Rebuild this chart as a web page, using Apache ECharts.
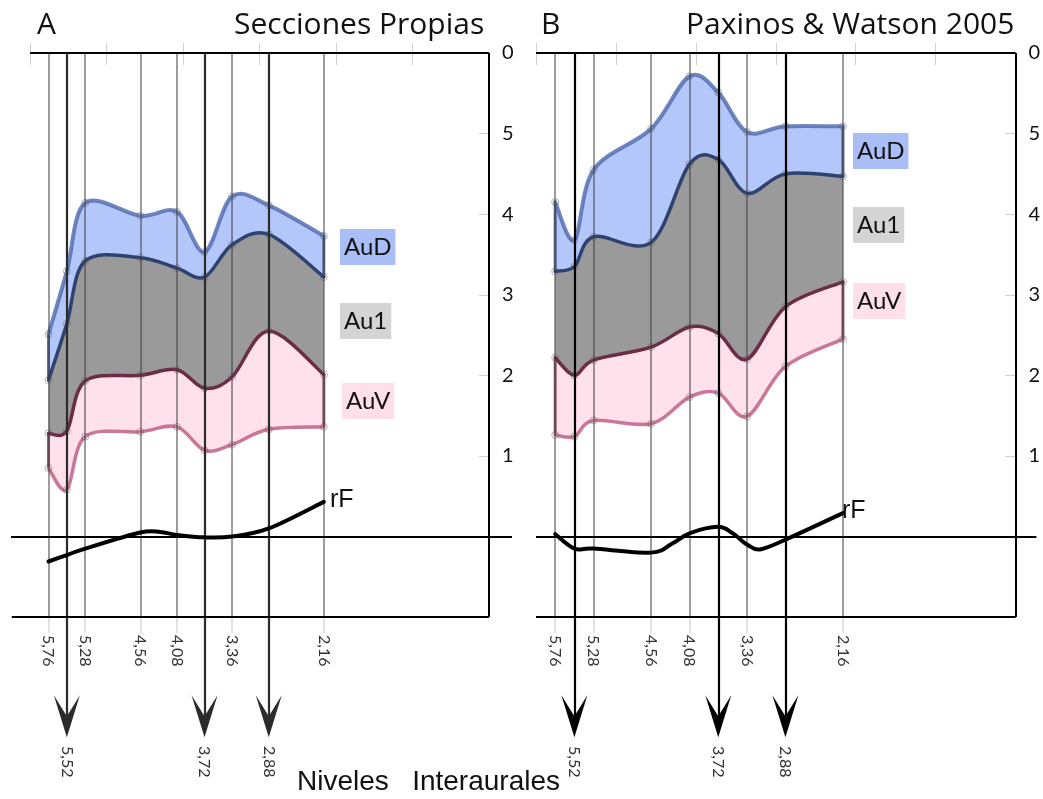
<!DOCTYPE html>
<html>
<head>
<meta charset="utf-8">
<script src="https://cdn.jsdelivr.net/npm/echarts@6/dist/echarts.min.js"></script>
<style>
  html, body { margin: 0; padding: 0; background: #fff; }
  #chart { width: 1043px; height: 799px; }
</style>
</head>
<body>
<div id="chart"></div>
<script>
// Interaural levels (mm) sampled in both panels
const levels = [5.76, 5.52, 5.28, 4.56, 4.08, 3.72, 3.36, 2.88, 2.16];
// Levels drawn as gray guide lines with labels under the frame
const levelLines = [5.76, 5.28, 4.56, 4.08, 3.36, 2.16];
// Levels marked with arrows
const arrowLevels = [5.52, 3.72, 2.88];
// Depth axis ticks and their labels
const depthTicks = [1, 2, 3, 4, 5, 6];
const depthTickLabels = ['1', '2', '3', '4', '5', '0'];
const topTicks = [1, 2, 3, 4, 5, 6];

// Panel A: own sections — region boundaries (top of AuD, AuD/Au1, Au1/AuV, bottom of AuV)
const aAuDTop    = [2.51, 3.29, 4.14, 3.98, 4.03, 3.53, 4.22, 4.11, 3.73];
const aAuDAu1    = [1.94, 2.64, 3.42, 3.46, 3.33, 3.22, 3.62, 3.75, 3.22];
const aAu1AuV    = [1.28, 1.31, 1.93, 2.00, 2.07, 1.84, 1.98, 2.55, 2.01];
const aAuVBottom = [0.85, 0.58, 1.24, 1.30, 1.36, 1.07, 1.14, 1.33, 1.36];
// Panel A: rhinal fissure
const aRfX = [5.76, 5.52, 5.28, 4.56, 4.30, 4.08, 3.72, 3.36, 2.88, 2.16];
const aRfY = [-0.31, -0.23, -0.15, 0.05, 0.055, 0.02, -0.01, 0.00, 0.10, 0.43];

// Panel B: Paxinos & Watson 2005 — region boundaries
const bAuDTop    = [4.15, 3.68, 4.55, 5.06, 5.71, 5.51, 5.02, 5.09, 5.09];
const bAuDAu1    = [3.29, 3.35, 3.72, 3.65, 4.62, 4.68, 4.26, 4.50, 4.47];
const bAu1AuV    = [2.22, 2.00, 2.19, 2.35, 2.60, 2.52, 2.20, 2.85, 3.16];
const bAuVBottom = [1.26, 1.24, 1.44, 1.40, 1.73, 1.78, 1.49, 2.11, 2.45];
// Panel B: rhinal fissure
const bRfX = [5.76, 5.52, 5.28, 4.56, 4.30, 4.08, 3.72, 3.54, 3.36, 3.20, 2.88, 2.16];
const bRfY = [0.03, -0.15, -0.15, -0.20, -0.09, 0.04, 0.12, 0.04, -0.10, -0.16, -0.04, 0.29];

const FRAME_TOP = 6, FRAME_BOTTOM = -1, ARROW_END = -2.23;
const Y_MIN = -2.55, Y_MAX = 6;

const panels = [
  { grid: { left: 11, top: 53, width: 501, height: 689 }, xMin: -0.3, xMax: 6.25, yOffset: -23,
    bottomStart: 6.24, arrowColor: '#2b2b2b',
    bounds: [aAuDTop, aAuDAu1, aAu1AuV, aAuVBottom], rfX: aRfX, rfY: aRfY },
  { grid: { left: 536, top: 53, width: 502, height: 689 }, xMin: -0.26, xMax: 6.0, yOffset: -21,
    bottomStart: 6.0, arrowColor: '#000000',
    bounds: [bAuDTop, bAuDAu1, bAu1AuV, bAuVBottom], rfX: bRfX, rfY: bRfY }
];

const fmtLevel = v => String(v).replace('.', ',');
const arrowHead = 'path://M0,0L13,21L26,0L13,42Z';

// fills: AuD, Au1, AuV
const bandFills = ['#b4c7fb', '#9a9a9a', '#ffe1ec'];
// strokes: top of AuD, AuD/Au1, Au1/AuV, bottom of AuV
const boundaryStrokes = [
  { color: 'rgba(78,104,172,0.8)', width: 4 },
  { color: '#2f416f', width: 3.5 },
  { color: '#6b2c45', width: 3.5 },
  { color: 'rgba(188,88,128,0.8)', width: 3.5 }
];
const edgeStrokes = ['rgba(47,65,111,0.75)', null, 'rgba(107,44,69,0.75)'];

// Catmull-Rom spline through pixel points, as SVG path commands
function splinePath(pts, start) {
  let d = (start || 'M') + pts[0][0] + ',' + pts[0][1];
  for (let i = 0; i < pts.length - 1; i++) {
    const p0 = pts[Math.max(i - 1, 0)], p1 = pts[i], p2 = pts[i + 1], p3 = pts[Math.min(i + 2, pts.length - 1)];
    const c1x = p1[0] + (p2[0] - p0[0]) / 6, c1y = p1[1] + (p2[1] - p0[1]) / 6;
    const c2x = p2[0] - (p3[0] - p1[0]) / 6, c2y = p2[1] - (p3[1] - p1[1]) / 6;
    d += 'C' + c1x + ',' + c1y + ',' + c2x + ',' + c2y + ',' + p2[0] + ',' + p2[1];
  }
  return d;
}

function bandRenderer(bounds) {
  return function (params, api) {
    if (params.dataIndex !== 0) return;
    const curves = bounds.map(vals => levels.map((x, i) => api.coord([x, vals[i]])));
    const children = [];
    // filled regions between consecutive boundaries
    for (let k = 0; k < 3; k++) {
      const upper = curves[k], lower = curves[k + 1].slice().reverse();
      children.push({ type: 'path', shape: { pathData: splinePath(upper) + splinePath(lower, 'L') + 'Z' },
                      style: { fill: bandFills[k], stroke: null } });
    }
    // vertical side edges of AuD and AuV
    for (let k = 0; k < 3; k++) {
      if (!edgeStrokes[k]) continue;
      [0, levels.length - 1].forEach(i => {
        children.push({ type: 'line',
          shape: { x1: curves[k][i][0], y1: curves[k][i][1], x2: curves[k + 1][i][0], y2: curves[k + 1][i][1] },
          style: { stroke: edgeStrokes[k], lineWidth: 3 } });
      });
    }
    // boundary curves
    curves.forEach((pts, k) => {
      children.push({ type: 'path', shape: { pathData: splinePath(pts) },
        style: { fill: 'none', stroke: boundaryStrokes[k].color, lineWidth: boundaryStrokes[k].width, lineJoin: 'round', lineCap: 'round' } });
    });
    // sample markers
    curves.forEach(pts => pts.forEach(pt => {
      children.push({ type: 'circle', shape: { cx: pt[0], cy: pt[1], r: 3.5 },
        style: { fill: 'none', stroke: 'rgba(90,90,90,0.45)', lineWidth: 1 } });
    }));
    return { type: 'group', children };
  };
}

function curveRenderer(xs, ys) {
  return function (params, api) {
    if (params.dataIndex !== 0) return;
    const pts = xs.map((x, i) => api.coord([x, ys[i]]));
    return { type: 'path', shape: { pathData: splinePath(pts) },
             style: { fill: 'none', stroke: '#000', lineWidth: 4, lineCap: 'round' } };
  };
}

const grids = [], xAxes = [], yAxes = [], series = [];

panels.forEach((p, gi) => {
  grids.push(p.grid);
  const base = { gridIndex: gi, type: 'value', min: p.xMin, max: p.xMax, inverse: true,
                 splitLine: { show: false }, axisLine: { show: false, onZero: false } };
  // top ticks
  xAxes.push(Object.assign({}, base, {
    position: 'top', offset: -12,
    axisTick: { show: true, length: 22, customValues: topTicks, lineStyle: { color: '#d2d2d2', width: 1 } },
    axisLabel: { show: false }
  }));
  // level labels under the frame
  xAxes.push(Object.assign({}, base, {
    position: 'bottom', offset: -125,
    axisTick: { show: true, length: 16, customValues: levelLines, lineStyle: { color: '#dadada', width: 1.5 } },
    axisLabel: { show: true, customValues: levelLines, rotate: -90, margin: 18, formatter: fmtLevel,
                 fontSize: 16, color: '#333', fontFamily: 'Lato' }
  }));
  // arrow labels
  xAxes.push(Object.assign({}, base, {
    position: 'bottom', offset: 0,
    axisTick: { show: false },
    axisLabel: { show: true, customValues: arrowLevels, rotate: -90, margin: 4, formatter: fmtLevel,
                 fontSize: 16, color: '#333', fontFamily: 'Lato' }
  }));
  yAxes.push({
    gridIndex: gi, type: 'value', min: Y_MIN, max: Y_MAX, position: 'right', offset: p.yOffset,
    splitLine: { show: false }, axisLine: { show: false, onZero: false },
    axisTick: { show: true, inside: true, length: 10, customValues: depthTicks.slice(0, 5),
                lineStyle: { color: '#cfcfcf', width: 1 } },
    axisLabel: { show: true, customValues: depthTicks, margin: 13, fontSize: 20, color: '#111',
                 fontFamily: 'Lato', formatter: v => depthTickLabels[depthTicks.indexOf(v)] }
  });

  const xi = gi * 3 + 1;
  const common = { xAxisIndex: xi, yAxisIndex: gi, silent: true, animation: false };

  // auditory regions
  series.push(Object.assign({}, common, {
    type: 'custom', z: 2,
    data: levels.map((x, i) => [x].concat(p.bounds.map(b => b[i]))),
    encode: { x: 0, y: [1, 2, 3, 4] },
    renderItem: bandRenderer(p.bounds)
  }));

  // gray level guide lines
  series.push(Object.assign({}, common, {
    type: 'line', data: [],
    markLine: {
      z: 10, silent: true, symbol: ['none', 'none'], label: { show: false },
      lineStyle: { color: 'rgba(60,60,60,0.5)', width: 2, type: 'solid' },
      data: levelLines.map(v => [{ coord: [v, FRAME_TOP] }, { coord: [v, FRAME_BOTTOM] }])
    }
  }));

  // arrow shafts
  series.push(Object.assign({}, common, {
    type: 'line', data: [],
    markLine: {
      z: 11, silent: true, symbol: ['none', 'none'], label: { show: false },
      lineStyle: { color: p.arrowColor, width: 2.2, type: 'solid' },
      data: arrowLevels.map(v => [{ coord: [v, FRAME_TOP] }, { coord: [v, ARROW_END] }])
    }
  }));
  // arrow heads
  series.push(Object.assign({}, common, {
    type: 'scatter', z: 11,
    data: arrowLevels.map(v => [v, ARROW_END]),
    symbol: arrowHead, symbolSize: [26, 42],
    itemStyle: { color: p.arrowColor, opacity: 1 }
  }));

  // frame and baseline
  series.push(Object.assign({}, common, {
    type: 'line', data: [],
    markLine: {
      z: 12, silent: true, symbol: ['none', 'none'], label: { show: false },
      lineStyle: { color: '#000', width: 2, type: 'solid' },
      data: [
        [{ coord: [6, FRAME_TOP] }, { coord: [0, FRAME_TOP] }],
        [{ coord: [0, FRAME_TOP] }, { coord: [0, FRAME_BOTTOM] }],
        [{ coord: [p.bottomStart, FRAME_BOTTOM] }, { coord: [0, FRAME_BOTTOM] }],
        { yAxis: 0 }
      ]
    }
  }));

  // rhinal fissure
  series.push(Object.assign({}, common, {
    type: 'custom', z: 20,
    data: p.rfX.map((x, i) => [x, p.rfY[i]]),
    encode: { x: 0, y: 1 },
    renderItem: curveRenderer(p.rfX, p.rfY)
  }));
});

function label(text, left, top, size, family, bg) {
  const t = { text, left, top, padding: bg ? [5, 4, 5, 4] : 0,
    textStyle: { fontSize: size, fontFamily: family, fontWeight: 'normal', color: '#111',
                 lineHeight: bg ? 26 : Math.round(size * 1.2) } };
  if (bg) t.backgroundColor = bg;
  return t;
}

const titles = [
  label('A', 37, 7, 30, 'Open Sans'),
  label('Secciones Propias', 234, 7, 30, 'Open Sans'),
  label('B', 541, 7, 30, 'Open Sans'),
  label('Paxinos & Watson 2005', 686, 7, 30, 'Open Sans'),
  label('Niveles   Interaurales', 297, 765, 28, 'Liberation Sans'),
  label('rF', 330, 485, 25, 'Liberation Sans'),
  label('rF', 842, 496, 25, 'Liberation Sans'),
  label('AuD', 340, 229, 24, 'Lato', '#a9bef7'),
  label('Au1', 340, 303, 24, 'Lato', '#d4d4d4'),
  label('AuV', 342, 383, 24, 'Lato', '#ffe0ea'),
  label('AuD', 853, 133, 24, 'Lato', '#a9bef7'),
  label('Au1', 853, 207, 24, 'Lato', '#d4d4d4'),
  label('AuV', 853, 283, 24, 'Lato', '#ffe0ea')
];

const chart = echarts.init(document.getElementById('chart'), null, { renderer: 'canvas' });
chart.setOption({
  animation: false,
  backgroundColor: '#fff',
  textStyle: { fontFamily: 'Lato' },
  title: titles,
  grid: grids,
  xAxis: xAxes,
  yAxis: yAxes,
  series: series
});
</script>
</body>
</html>
